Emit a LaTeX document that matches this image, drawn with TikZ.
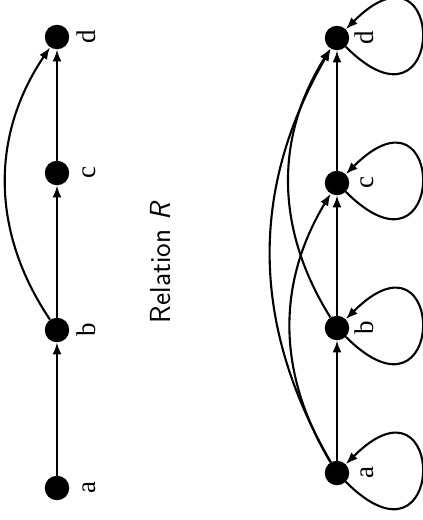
\documentclass[tikz,border=0pt]{standalone}
\usepackage{fontspec}
\setmainfont{Liberation Serif}
\usetikzlibrary{arrows.meta}
\tikzset{
  vtx/.style={circle,fill=black,draw=none,minimum size=24.5pt,inner sep=0pt},
  lbl/.style={rotate=90,anchor=base,inner sep=0pt,font=\fontsize{27}{30}\selectfont},
  edge/.style={line width=2.1pt,-{Latex[length=12pt,width=9pt]}},
  loopy/.style={edge}
}
\begin{document}
\begin{tikzpicture}[x=1pt,y=-1pt]
\useasboundingbox (0,0) rectangle (423,520);
% left graph
\node[vtx] (la) at (57,488) {};
\node[vtx] (lb) at (57,330) {};
\node[vtx] (lc) at (57,173) {};
\node[vtx] (ld) at (57,37) {};
\node[lbl] (lal) at (95,488) {a};
\node[lbl] (lbl) at (95,330) {b};
\node[lbl] (lcl) at (95,173) {c};
\node[lbl] (ldl) at (95,37) {d};
\draw[edge] (la) -- (lb);
\draw[edge] (lb) -- (lc);
\draw[edge] (lc) -- (ld);
\draw[edge] (lb) to[bend left=34] (ld);
% caption
\node[rotate=90,anchor=base,inner sep=0pt,font=\sffamily\fontsize{29}{32}\selectfont] (cap) at (170,262) {Relation \textit{R}};
% right graph
\node[vtx] (ra) at (337,473) {};
\node[vtx] (rb) at (337,328) {};
\node[vtx] (rc) at (337,183) {};
\node[vtx] (rd) at (337,38) {};
\node[lbl] (ral) at (373,473) {a};
\node[lbl] (rbl) at (373,328) {b};
\node[lbl] (rcl) at (373,183) {c};
\node[lbl] (rdl) at (373,38) {d};
\draw[edge] (ra) -- (rb);
\draw[edge] (rb) -- (rc);
\draw[edge] (rc) -- (rd);
\draw[edge] (ra) to[bend left=31] (rc);
\draw[edge] (rb) to[bend left=32] (rd);
\draw[edge] (ra) to[bend left=30] (rd);
\foreach \n in {ra,rb,rc,rd}{
  \draw[loopy] (\n.-45) .. controls +(-45:144pt) and +(45:144pt) .. (\n.45);
}
\end{tikzpicture}
\end{document}
